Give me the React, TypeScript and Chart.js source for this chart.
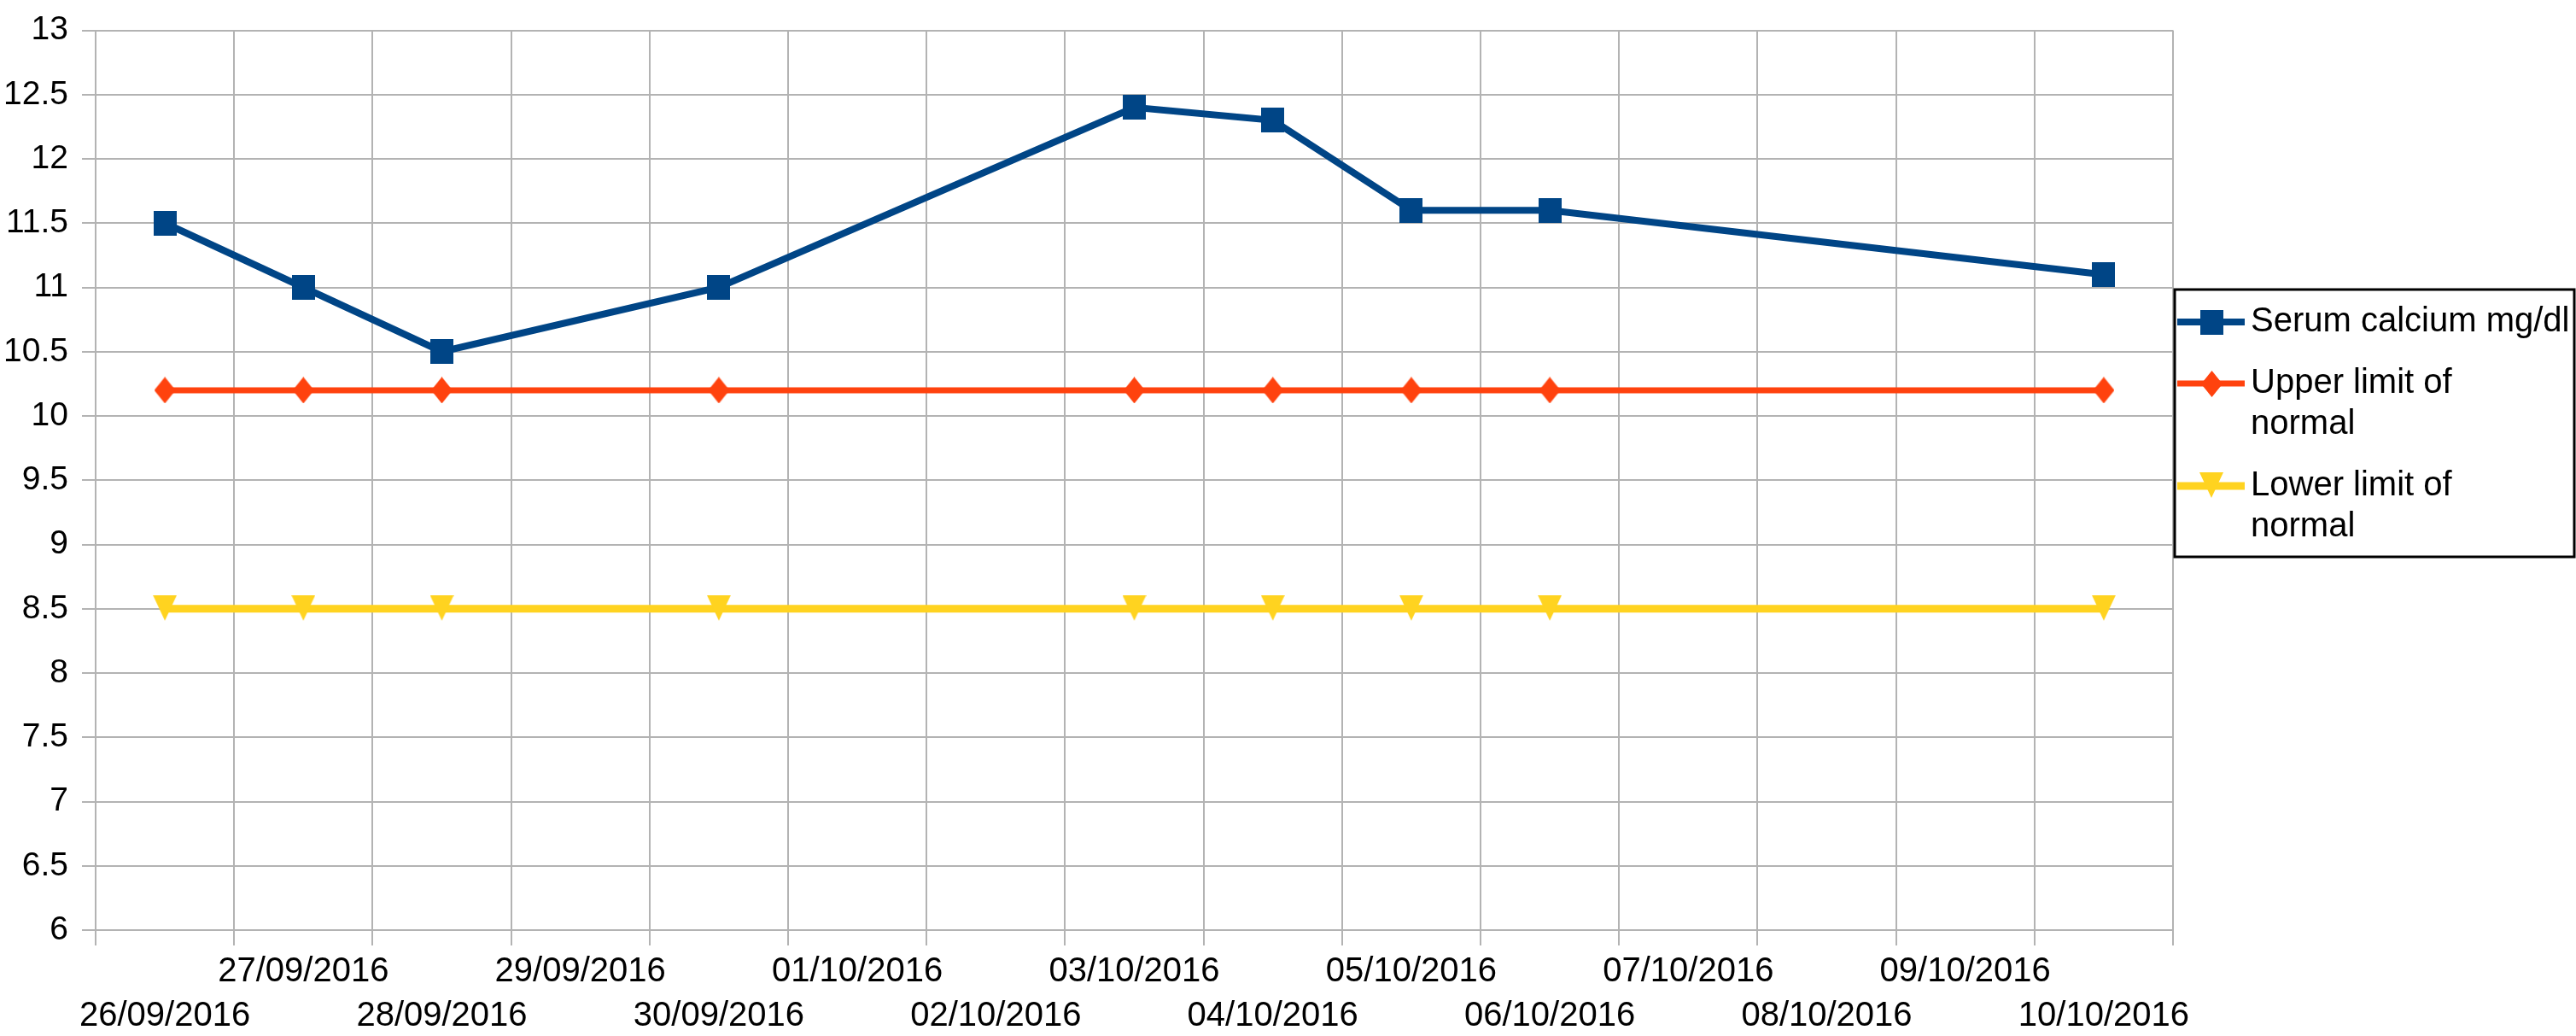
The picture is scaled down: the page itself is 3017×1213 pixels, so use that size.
import React, { useEffect, useRef } from "react";
import { Chart, registerables } from "chart.js";

Chart.register(...registerables);

const dates = [
  "26/09/2016", "27/09/2016", "28/09/2016", "29/09/2016", "30/09/2016",
  "01/10/2016", "02/10/2016", "03/10/2016", "04/10/2016", "05/10/2016",
  "06/10/2016", "07/10/2016", "08/10/2016", "09/10/2016", "10/10/2016",
];

const serumCalcium = [11.5, 11.0, 10.5, null, 11.0, null, null, 12.4, 12.3, 11.6, 11.6, null, null, null, 11.1];
const upperLimit = [10.2, 10.2, 10.2, null, 10.2, null, null, 10.2, 10.2, 10.2, 10.2, null, null, null, 10.2];
const lowerLimit = [8.5, 8.5, 8.5, null, 8.5, null, null, 8.5, 8.5, 8.5, 8.5, null, null, null, 8.5];

const seriesNames = ["Serum calcium mg/dl", "Upper limit of normal", "Lower limit of normal"];
const legendLines = [["Serum calcium mg/dl"], ["Upper limit of", "normal"], ["Lower limit of", "normal"]];

const yMin = 6;
const yMax = 13;
const yStep = 0.5;

const BLUE = "#004586";
const ORANGE = "#ff420e";
const YELLOW = "#ffd320";
const GRID = "#b3b3b3";
const FONT = "'Liberation Sans', Arial, sans-serif";

function makeMarker(shape: string, color: string): HTMLCanvasElement {
  const c = document.createElement("canvas");
  let w = 27;
  let h = 29;
  if (shape === "diamond") { w = 25; h = 31; }
  if (shape === "triangle") { w = 28; h = 32; }
  c.width = w;
  c.height = h;
  const ctx = c.getContext("2d")!;
  ctx.fillStyle = color;
  ctx.beginPath();
  if (shape === "square") {
    ctx.rect(0, 0, w, h);
  } else if (shape === "diamond") {
    ctx.moveTo(0, h / 2);
    ctx.lineTo(w / 2, 0);
    ctx.lineTo(w, h / 2);
    ctx.lineTo(w / 2, h);
    ctx.closePath();
  } else {
    ctx.moveTo(0, 0);
    ctx.lineTo(w, 0);
    ctx.lineTo(w / 2, 30);
    ctx.closePath();
  }
  ctx.fill();
  return c;
}

const legendPlugin = {
  id: "customLegend",
  afterDraw(chart: any) {
    const ctx: CanvasRenderingContext2D = chart.ctx;
    const area = chart.chartArea;
    const x0 = area.right + 2;
    const y0 = 339;
    const x1 = 3015;
    const y1 = 652;
    ctx.save();
    ctx.fillStyle = "#ffffff";
    ctx.fillRect(x0, y0, x1 - x0, y1 - y0);
    ctx.lineWidth = 3;
    ctx.strokeStyle = "#000000";
    ctx.strokeRect(x0, y0, x1 - x0, y1 - y0);
    ctx.beginPath();
    ctx.rect(x0 + 1.5, y0 + 1.5, x1 - x0 - 3, y1 - y0 - 3);
    ctx.clip();
    let rowY = y0 + 38;
    chart.data.datasets.forEach((ds: any, i: number) => {
      const lines = legendLines[i];
      ctx.strokeStyle = ds.borderColor;
      ctx.lineWidth = ds.borderWidth;
      ctx.beginPath();
      ctx.moveTo(x0 + 3, rowY);
      ctx.lineTo(x0 + 82, rowY);
      ctx.stroke();
      const img = ds.pointStyle as HTMLCanvasElement;
      ctx.drawImage(img, Math.round(x0 + 43 - img.width / 2), Math.round(rowY - img.height / 2));
      ctx.fillStyle = "#000";
      ctx.font = `40px ${FONT}`;
      ctx.textBaseline = "middle";
      ctx.textAlign = "left";
      lines.forEach((t: string, j: number) => {
        ctx.fillText(t, x0 + 89, rowY + j * 48);
      });
      rowY += (lines.length - 1) * 48 + 72;
    });
    ctx.restore();
  },
};

export default function App() {
  const ref = useRef<HTMLCanvasElement>(null);

  useEffect(() => {
    if (!ref.current) return;
    const square = makeMarker("square", BLUE);
    const diamond = makeMarker("diamond", ORANGE);
    const triangle = makeMarker("triangle", YELLOW);
    const chart = new Chart(ref.current, {
      type: "line",
      data: {
        labels: dates,
        datasets: [
          {
            label: seriesNames[0],
            data: serumCalcium,
            borderColor: BLUE,
            backgroundColor: BLUE,
            borderWidth: 8,
            pointStyle: square,
            pointRadius: 15,
            spanGaps: true,
            tension: 0,
          },
          {
            label: seriesNames[1],
            data: upperLimit,
            borderColor: ORANGE,
            backgroundColor: ORANGE,
            borderWidth: 7,
            pointStyle: diamond,
            pointRadius: 15,
            spanGaps: true,
            tension: 0,
          },
          {
            label: seriesNames[2],
            data: lowerLimit,
            borderColor: YELLOW,
            backgroundColor: YELLOW,
            borderWidth: 9,
            pointStyle: triangle,
            pointRadius: 15,
            spanGaps: true,
            tension: 0,
          },
        ],
      },
      options: {
        responsive: false,
        animation: false,
        devicePixelRatio: 1,
        layout: { padding: { top: 20, right: 472, left: 0, bottom: 0 } },
        plugins: {
          legend: { display: false },
          tooltip: { enabled: false },
        },
        scales: {
          x: {
            type: "category",
            offset: true,
            grid: {
              offset: true,
              color: GRID,
              lineWidth: 2,
              drawTicks: true,
              tickLength: 18,
            },
            border: { display: true, color: GRID, width: 2 },
            ticks: {
              autoSkip: false,
              maxRotation: 0,
              minRotation: 0,
              padding: 5,
              color: "#000",
              font: { family: FONT, size: 40, lineHeight: 1.3 },
              callback: (_v: any, index: number) =>
                index % 2 === 0 ? ["", dates[index]] : [dates[index], ""],
            },
            afterFit: (scale: any) => {
              scale.height = 124;
            },
          },
          y: {
            min: yMin,
            max: yMax,
            grid: {
              color: GRID,
              lineWidth: 2,
              drawTicks: true,
              tickLength: 16,
            },
            border: { display: true, color: GRID, width: 2 },
            ticks: {
              stepSize: yStep,
              padding: 16,
              color: "#000",
              font: { family: FONT, size: 39, lineHeight: 1 },
              callback: (v: any) => String(Number(v)),
            },
            afterFit: (scale: any) => {
              scale.width = 112;
            },
          },
        },
      },
      plugins: [legendPlugin],
    } as any);
    return () => chart.destroy();
  }, []);

  return (
    <div style={{ position: "fixed", left: 0, top: 0, width: 3017, height: 1213, background: "#fff" }}>
      <canvas ref={ref} width={3017} height={1213} style={{ display: "block", width: 3017, height: 1213 }} />
    </div>
  );
}
